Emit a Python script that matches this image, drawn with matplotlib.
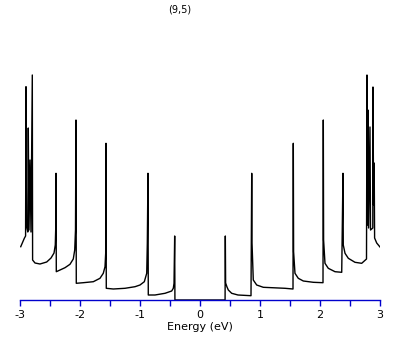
import matplotlib
matplotlib.use('Agg')
import matplotlib.pyplot as plt
from matplotlib.ticker import MultipleLocator

# density of states, (9,5) nanotube
energy = [
    -2.988, -2.928, -2.907, -2.900, -2.892, -2.870, -2.862, -2.850, -2.833, -2.817,
    -2.795, -2.790, -2.750, -2.667, -2.555, -2.483, -2.433, -2.412, -2.403, -2.400,
    -2.395, -2.333, -2.250, -2.167, -2.112, -2.088, -2.075, -2.067,
    -2.062, -1.945, -1.778, -1.667, -1.612, -1.583, -1.572, -1.567,
    -1.562, -1.445, -1.250, -1.083, -1.000, -0.928, -0.888, -0.878, -0.867,
    -0.862, -0.750, -0.583, -0.472, -0.445, -0.433, -0.422, -0.418,
    0.418, 0.422, 0.427, 0.450, 0.472, 0.528, 0.633, 0.850, 0.862,
    0.867, 0.888, 0.945, 1.055, 1.417, 1.550, 1.555,
    1.560, 1.583, 1.638, 1.722, 1.888, 2.050, 2.055,
    2.060, 2.083, 2.138, 2.250, 2.362, 2.383,
    2.388, 2.417, 2.472, 2.583, 2.695, 2.775, 2.783, 2.790, 2.800, 2.810,
    2.833, 2.842, 2.880, 2.883, 2.893, 2.903, 2.910, 2.945, 3.000,
]
dos = [
    0.533, 0.617, 0.640, 2.133, 0.750, 0.680, 1.720, 0.700, 1.400, 0.680,
    2.250, 0.400, 0.370, 0.360, 0.380, 0.420, 0.470, 0.550, 0.750, 1.267,
    0.283, 0.300, 0.323, 0.357, 0.410, 0.500, 0.700, 1.800,
    0.167, 0.173, 0.183, 0.217, 0.267, 0.333, 0.467, 1.567,
    0.117, 0.110, 0.117, 0.133, 0.150, 0.183, 0.267, 0.567, 1.267,
    0.050, 0.050, 0.067, 0.090, 0.117, 0.167, 0.640, 0.0,
    0.0, 0.640, 0.170, 0.130, 0.100, 0.067, 0.050, 0.043, 1.267,
    0.570, 0.200, 0.150, 0.127, 0.117, 0.110, 1.567,
    0.483, 0.267, 0.217, 0.190, 0.177, 0.173, 1.800,
    0.600, 0.367, 0.317, 0.283, 0.277, 1.267,
    0.550, 0.467, 0.417, 0.377, 0.367, 0.410, 2.250, 0.750, 1.900, 0.720,
    1.730, 0.700, 0.720, 2.130, 0.950, 1.370, 0.620, 0.570, 0.530,
]

plt.rcParams['axes.unicode_minus'] = False
plt.rcParams['font.family'] = ['DejaVu Sans']

fig = plt.figure(figsize=(4.09, 3.45), dpi=100)
ax = fig.add_axes([20 / 409, 45 / 345, 360 / 409, 240 / 345])
ax.plot(energy, dos, color='black', lw=1.0)

ax.set_xlim(-3, 3)
ax.set_ylim(0, 2.4)
for side in ['left', 'right', 'top']:
    ax.spines[side].set_visible(False)
ax.spines['bottom'].set_color('#0000cc')
ax.spines['bottom'].set_linewidth(1.0)
ax.set_yticks([])
ax.xaxis.set_major_locator(MultipleLocator(1))
ax.xaxis.set_minor_locator(MultipleLocator(0.5))
ax.tick_params(axis='x', which='both', direction='out', length=4.5,
               width=1.0, color='#0000cc', labelsize=8, pad=2.5)
ax.set_xlabel('Energy (eV)', fontsize=8, labelpad=2)

fig.text(180 / 409, 1 - 9 / 345, '(9,5)', fontsize=7, ha='center', va='center')

fig.savefig('out.png', dpi=100)
